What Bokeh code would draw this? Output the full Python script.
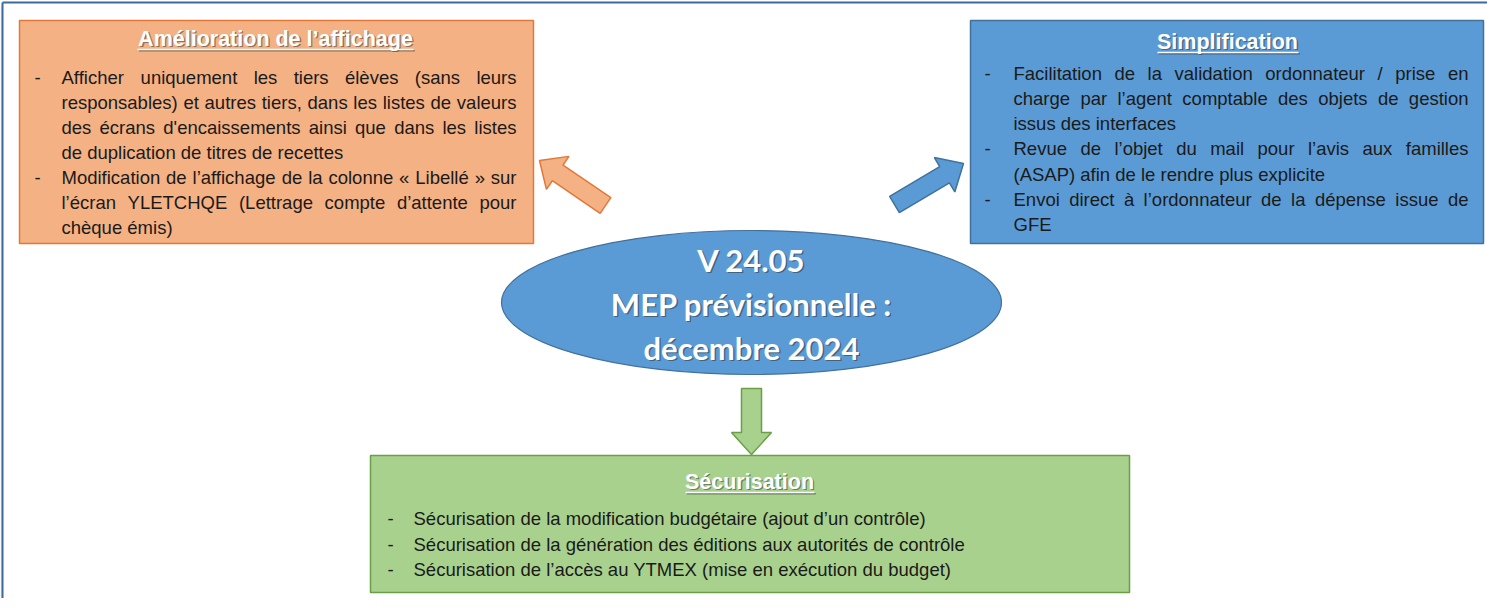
from bokeh.plotting import figure
from bokeh.models import Range1d, ColumnDataSource
from bokeh.core.properties import value
from bokeh.embed import file_html
from bokeh.resources import INLINE

# ---------------- content ----------------
centre_lines = ["V 24.05", "MEP prévisionnelle :", "décembre 2024"]

orange_title = "Amélioration de l’affichage"
orange_lines = [
    "Afficher uniquement les tiers élèves (sans leurs",
    "responsables) et autres tiers, dans les listes de valeurs",
    "des écrans d'encaissements ainsi que dans les listes",
    "de duplication de titres de recettes",
    "Modification de l’affichage de la colonne « Libellé » sur",
    "l’écran YLETCHQE (Lettrage compte d’attente pour",
    "chèque émis)",
]
orange_bullets = [1, 0, 0, 0, 1, 0, 0]
orange_justified = [1, 1, 1, 0, 1, 1, 0]

blue_title = "Simplification"
blue_lines = [
    "Facilitation de la validation ordonnateur / prise en",
    "charge par l’agent comptable des objets de gestion",
    "issus des interfaces",
    "Revue de l’objet du mail pour l’avis aux familles",
    "(ASAP) afin de le rendre plus explicite",
    "Envoi direct à l’ordonnateur de la dépense issue de",
    "GFE",
]
blue_bullets = [1, 0, 0, 1, 0, 1, 0]
blue_justified = [1, 1, 0, 1, 0, 1, 0]

green_title = "Sécurisation"
green_lines = [
    "Sécurisation de la modification budgétaire (ajout d’un contrôle)",
    "Sécurisation de la génération des éditions aux autorités de contrôle",
    "Sécurisation de l’accès au YTMEX (mise en exécution du budget)",
]
green_bullets = [1, 1, 1]
green_justified = [0, 0, 0]

# ---------------- fonts ----------------
BODY_FONT = "Liberation Sans"
BODY_PX = 18.5
TITLE_FONT = "Liberation Sans"
TITLE_SIZE = "21.5px"
CENTRE_FONT = "Lato"
CENTRE_SIZE = "31px"

# Arial / Liberation Sans advance widths (1/1000 em) used to justify lines
_W = {" ": 278, "'": 191, "’": 222, "(": 333, ")": 333, ",": 278, ".": 278, "/": 278, "-": 333,
      ":": 278, "«": 556, "»": 556,
      "A": 667, "B": 667, "C": 722, "D": 722, "E": 667, "F": 611, "G": 778, "H": 722, "I": 278,
      "J": 500, "K": 667, "L": 556, "M": 833, "N": 722, "O": 778, "P": 667, "Q": 778, "R": 722,
      "S": 667, "T": 611, "U": 722, "V": 667, "W": 944, "X": 667, "Y": 667, "Z": 611,
      "a": 556, "b": 556, "c": 500, "d": 556, "e": 556, "f": 278, "g": 556, "h": 556, "i": 222,
      "j": 222, "k": 500, "l": 222, "m": 833, "n": 556, "o": 556, "p": 556, "q": 556, "r": 333,
      "s": 500, "t": 278, "u": 556, "v": 500, "w": 722, "x": 500, "y": 500, "z": 500,
      "é": 556, "è": 556, "ê": 556, "à": 556, "ô": 556, "î": 278, "ç": 500}


def tw(s, px):
    return sum(_W.get(c, 556) for c in s) * px / 1000.0


# ---------------- figure ----------------
p = figure(width=1487, height=598, x_range=Range1d(8, 1495), y_range=Range1d(606, 8),
           output_backend="svg", toolbar_location=None, min_border=0)
p.axis.visible = False
p.grid.visible = False
p.outline_line_color = None
p.background_fill_color = "white"
p.border_fill_color = "white"

# frame (document border)
for k, a in enumerate([0.05, 0.1, 0.18]):
    p.segment(x0=[8 + k * 0.7], y0=[14], x1=[8 + k * 0.7], y1=[606], line_color="#808080",
              line_alpha=a, line_width=1)
p.segment(x0=[10, 10], y0=[10, 10], x1=[1495, 10], y1=[10, 606], line_color="#3d6a9e", line_width=2)

ORANGE_FILL, ORANGE_LINE = "#f4b183", "#e2783a"
BLUE_FILL, BLUE_LINE = "#5b9bd5", "#41719c"
GREEN_FILL, GREEN_LINE = "#a9d18e", "#6a9f47"


def block_arrow(tail, tip, sw, hw, hl):
    dx, dy = tip[0] - tail[0], tip[1] - tail[1]
    L = (dx * dx + dy * dy) ** 0.5
    ux, uy = dx / L, dy / L
    nx, ny = -uy, ux
    bx, by = tip[0] - ux * hl, tip[1] - uy * hl
    pts = [
        (tail[0] + nx * sw / 2, tail[1] + ny * sw / 2),
        (bx + nx * sw / 2, by + ny * sw / 2),
        (bx + nx * hw / 2, by + ny * hw / 2),
        tip,
        (bx - nx * hw / 2, by - ny * hw / 2),
        (bx - nx * sw / 2, by - ny * sw / 2),
        (tail[0] - nx * sw / 2, tail[1] - ny * sw / 2),
    ]
    return [q[0] for q in pts], [q[1] for q in pts]


def box(l, r, t, b, fill, line):
    p.quad(left=[l], right=[r], top=[t], bottom=[b], fill_color=fill, line_color=line, line_width=1.5)


def title(x, y, txt, x0, x1):
    p.text(x=[x + 1.3], y=[y + 1.3], text=[txt], text_font=value(TITLE_FONT), text_font_style="bold",
           text_font_size=TITLE_SIZE, text_color="#3a3a3a", text_alpha=0.55, text_align="center",
           text_baseline="middle")
    p.segment(x0=[x0 + 1.3], y0=[y + 12.3], x1=[x1 + 1.3], y1=[y + 12.3], line_color="#3a3a3a",
              line_alpha=0.55, line_width=1.5)
    p.text(x=[x], y=[y], text=[txt], text_font=value(TITLE_FONT), text_font_style="bold",
           text_font_size=TITLE_SIZE, text_color="white", text_align="center", text_baseline="middle")
    p.segment(x0=[x0], y0=[y + 11], x1=[x1], y1=[y + 11], line_color="white", line_width=1.5)


def body(lines, bullets, justified, xb, xt, xr, y0, dy):
    xs, ys, ts = [], [], []
    for i, (line, j) in enumerate(zip(lines, justified)):
        y = y0 + i * dy
        if j:
            words = line.split(" ")
            total = sum(tw(w, BODY_PX) for w in words)
            gap = (xr - xt - total) / (len(words) - 1)
            x = xt
            for w in words:
                xs.append(x); ys.append(y); ts.append(w)
                x += tw(w, BODY_PX) + gap
        else:
            xs.append(xt); ys.append(y); ts.append(line)
    src = ColumnDataSource(dict(x=xs, y=ys, t=ts))
    p.text(x="x", y="y", text="t", source=src, text_font=value(BODY_FONT),
           text_font_size=f"{BODY_PX}px", text_color="#1a1a1a", text_baseline="middle",
           text_align="left")
    by = [y0 + i * dy for i, b in enumerate(bullets) if b]
    p.text(x=[xb] * len(by), y=by, text=["-"] * len(by), text_font=value(BODY_FONT),
           text_font_size=f"{BODY_PX}px", text_color="#1a1a1a", text_baseline="middle",
           text_align="left")


# orange box
box(27, 541, 28, 251, ORANGE_FILL, ORANGE_LINE)
title(283, 46, orange_title, 145, 421)
body(orange_lines, orange_bullets, orange_justified, 42, 69, 524, 85, 25)

# blue box
box(978, 1491, 28, 251, BLUE_FILL, BLUE_LINE)
title(1235, 49, blue_title, 1165, 1306)
body(blue_lines, blue_bullets, blue_justified, 992, 1021, 1476, 80.5, 25.3)

# green box
box(378, 1137, 463, 600, GREEN_FILL, GREEN_LINE)
title(757, 489, green_title, 693, 822)
body(green_lines, green_bullets, green_justified, 395, 421, 1100, 526, 25.5)

# arrows
ax, ay = block_arrow((613, 213), (547, 168), 19, 40, 22)
p.patch(ax, ay, fill_color=ORANGE_FILL, line_color=ORANGE_LINE, line_width=1.5)
ax, ay = block_arrow((902, 212), (971, 171), 19, 40, 22)
p.patch(ax, ay, fill_color=BLUE_FILL, line_color=BLUE_LINE, line_width=1.5)
ax, ay = block_arrow((759, 396), (759, 462), 20, 40, 22)
p.patch(ax, ay, fill_color=GREEN_FILL, line_color=GREEN_LINE, line_width=1.5)

# central ellipse
p.ellipse(x=[759], y=[310], width=[500], height=[144], fill_color=BLUE_FILL, line_color=BLUE_LINE,
          line_width=1.2)
cy = [267, 311, 355]
p.text(x=[760.5] * 3, y=[c + 1.5 for c in cy], text=centre_lines, text_font=value(CENTRE_FONT),
       text_font_style="bold", text_font_size=CENTRE_SIZE, text_color="#2a2a2a", text_alpha=0.5,
       text_align="center", text_baseline="middle")
p.text(x=[759] * 3, y=cy, text=centre_lines, text_font=value(CENTRE_FONT), text_font_style="bold",
       text_font_size=CENTRE_SIZE, text_color="white", text_align="center", text_baseline="middle")

open("out.html", "w").write(file_html(p, INLINE))
